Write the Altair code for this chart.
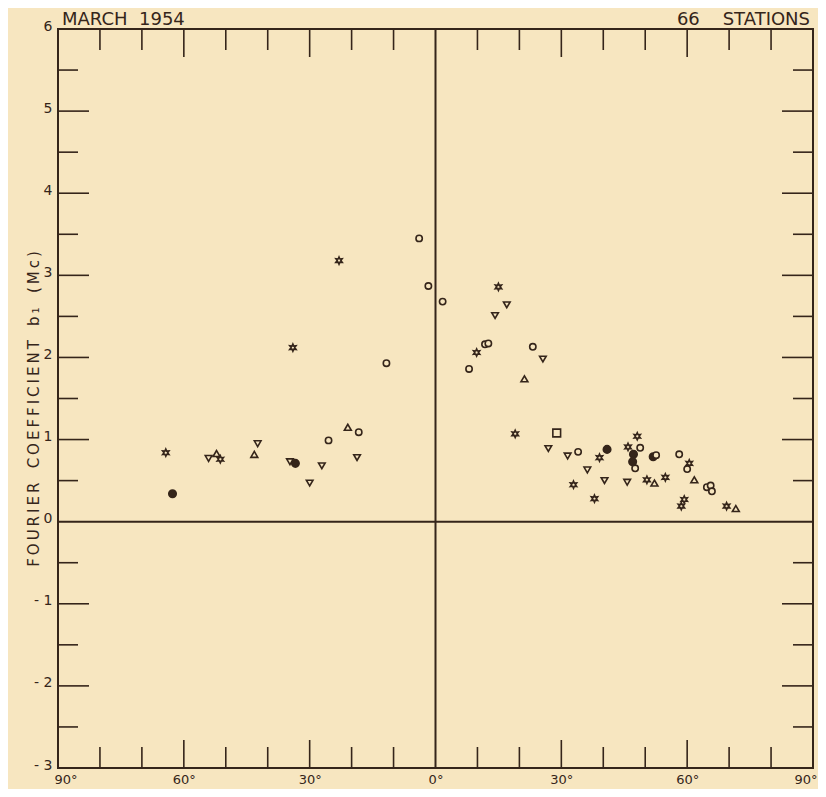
import altair as alt
import pandas as pd

# ---- data ----
lat = [-3.9, -23.0, -1.7, -34.0, -11.7, -20.9, -18.3, -25.5, -42.4, -64.3,
       -54.1, -52.2, -51.3, -43.2, -34.7, -33.4, -27.1, -18.7, -30.0, -62.7,
       15.0, 1.7, 17.0, 14.2, 11.8, 12.6, 9.8, 23.2, 25.6, 8.0,
       21.2, 19.0, 28.9, 26.9, 31.5, 34.0, 39.1, 40.9, 36.2, 32.9,
       37.9, 40.3, 45.7, 45.9, 48.1, 48.8, 47.2, 47.0, 47.6, 50.4,
       52.2, 54.8, 51.9, 52.6, 58.1, 60.5, 60.0, 61.7, 59.3, 58.6,
       64.7, 65.6, 65.9, 69.4, 71.6]
coef = [3.45, 3.18, 2.87, 2.12, 1.93, 1.15, 1.09, 0.99, 0.95, 0.84,
        0.77, 0.83, 0.76, 0.82, 0.73, 0.71, 0.68, 0.78, 0.47, 0.34,
        2.86, 2.68, 2.64, 2.51, 2.16, 2.17, 2.06, 2.13, 1.98, 1.86,
        1.74, 1.07, 1.08, 0.89, 0.80, 0.85, 0.78, 0.88, 0.63, 0.45,
        0.28, 0.50, 0.48, 0.91, 1.04, 0.90, 0.82, 0.73, 0.65, 0.51,
        0.47, 0.54, 0.79, 0.81, 0.82, 0.71, 0.64, 0.51, 0.27, 0.19,
        0.42, 0.44, 0.37, 0.19, 0.16]
sym = ["circle", "star", "circle", "star", "circle", "tri_up", "circle", "circle", "tri_down", "star",
       "tri_down", "tri_up", "star", "tri_up", "tri_down", "dot", "tri_down", "tri_down", "tri_down", "dot",
       "star", "circle", "tri_down", "tri_down", "circle", "circle", "star", "circle", "tri_down", "circle",
       "tri_up", "star", "square", "tri_down", "tri_down", "circle", "star", "dot", "tri_down", "star",
       "star", "tri_down", "tri_down", "star", "star", "circle", "dot", "dot", "circle", "star",
       "tri_up", "star", "dot", "circle", "circle", "star", "circle", "tri_up", "star", "star",
       "circle", "circle", "circle", "star", "tri_up"]

x_major = [-60, -30, 30, 60]
x_minor = [-80, -70, -50, -40, -20, -10, 10, 20, 40, 50, 70, 80]
y_major = [-2, -1, 1, 2, 3, 4, 5]
y_minor = [-2.5, -1.5, -0.5, 0.5, 1.5, 2.5, 3.5, 4.5, 5.5]
x_labels = [-90, -60, -30, 0, 30, 60, 90]
y_labels = [-3, -2, -1, 0, 1, 2, 3, 4, 5, 6]

Y_TITLE_WORDS = ["FOURIER", "COEFFICIENT", "b\u2081", "(Mc)"]
TEXT_LEFT_WORDS = ["MARCH", "1954"]
TEXT_RIGHT_WORDS = ["66", "STATIONS"]

W, H = 755, 739
BG = "#f7e6c0"
INK = "#35251a"
FONT = "DejaVu Sans"
NB = "\u00a0"
STAR = "M0,-1L0.25,-0.43L0.87,-0.5L0.5,0L0.87,0.5L0.25,0.43L0,1L-0.25,0.43L-0.87,0.5L-0.5,0L-0.87,-0.5L-0.25,-0.43Z"

# letter-spaced title (thin spaces between letters, as in the lettered original)
y_title = (NB * 3).join("\u2009".join(w) for w in Y_TITLE_WORDS)
text_left = (NB * 2).join(TEXT_LEFT_WORDS)
text_right = (NB * 4).join(TEXT_RIGHT_WORDS)

xs = alt.Scale(domain=[-90, 90], nice=False, zero=False)
ys = alt.Scale(domain=[-3, 6], nice=False, zero=False)

pts = pd.DataFrame({"lat": lat, "coef": coef, "sym": sym})

points = alt.Chart(pts).mark_point(filled=True, stroke=INK, strokeWidth=1.6, opacity=1).encode(
    x=alt.X("lat:Q", scale=xs, axis=alt.Axis(
        values=x_labels, labelExpr="abs(datum.value) + '°'", ticks=False, tickSize=0,
        domain=False, grid=False, title=None, labelFontSize=13, labelPadding=5,
        labelFlush=True, labelFlushOffset=4, labelColor=INK, labelFont=FONT)),
    y=alt.Y("coef:Q", scale=ys, axis=alt.Axis(
        values=y_labels, labelExpr="datum.value < 0 ? '- ' + abs(datum.value) : '' + datum.value",
        ticks=False, tickSize=0, domain=False, grid=False, labelFontSize=14, labelPadding=6,
        labelFlush=False, labelOffset=-3, labelColor=INK, labelFont=FONT,
        title=y_title, titleX=-25, titleY=H / 2 + 10, titleAngle=270,
        titleAlign="center", titleBaseline="middle", titleFontSize=15, titleFontWeight="normal",
        titleColor=INK, titleFont=FONT)),
    shape=alt.Shape("sym:N", legend=None, scale=alt.Scale(
        domain=["circle", "tri_down", "tri_up", "star", "dot", "square"],
        range=["circle", "triangle-down", "triangle-up", STAR, "circle", "square"])),
    fill=alt.Fill("sym:N", legend=None, scale=alt.Scale(
        domain=["circle", "tri_down", "tri_up", "star", "dot", "square"],
        range=[BG, BG, BG, BG, INK, BG])),
    size=alt.Size("sym:N", legend=None, scale=alt.Scale(
        domain=["circle", "tri_down", "tri_up", "star", "dot", "square"],
        range=[40, 60, 60, 60, 35, 36])),
)


def xticks(vals, length):
    df = pd.DataFrame({"x": vals})
    base = alt.Chart(df).mark_rule(color=INK, strokeWidth=1.6)
    bottom = base.encode(x=alt.X("x:Q", scale=xs), y=alt.value(H), y2=alt.value(H - length))
    top = base.encode(x=alt.X("x:Q", scale=xs), y=alt.value(0), y2=alt.value(length))
    return [bottom, top]


def yticks(vals, length):
    df = pd.DataFrame({"y": vals})
    base = alt.Chart(df).mark_rule(color=INK, strokeWidth=1.6)
    left = base.encode(y=alt.Y("y:Q", scale=ys), x=alt.value(0), x2=alt.value(length))
    right = base.encode(y=alt.Y("y:Q", scale=ys), x=alt.value(W), x2=alt.value(W - length))
    return [left, right]


zero_v = alt.Chart(pd.DataFrame({"x": [0]})).mark_rule(color=INK, strokeWidth=2).encode(
    x=alt.X("x:Q", scale=xs))
zero_h = alt.Chart(pd.DataFrame({"y": [0]})).mark_rule(color=INK, strokeWidth=2).encode(
    y=alt.Y("y:Q", scale=ys))

title_left = alt.Chart(pd.DataFrame({"t": [text_left]})).mark_text(
    align="left", baseline="middle", fontSize=18, color=INK, font=FONT).encode(
    x=alt.value(4), y=alt.value(-9), text="t:N")
title_right = alt.Chart(pd.DataFrame({"t": [text_right]})).mark_text(
    align="right", baseline="middle", fontSize=18, color=INK, font=FONT).encode(
    x=alt.value(W - 3), y=alt.value(-9), text="t:N")

layers = [points, zero_v, zero_h] + xticks(x_major, 28) + xticks(x_minor, 21) + \
    yticks(y_major, 31) + yticks(y_minor, 20) + [title_left, title_right]

chart = alt.layer(*layers).properties(
    width=W, height=H,
    padding={"left": 50, "top": 21, "right": 5, "bottom": 21},
    autosize=alt.AutoSizeParams(type="none"),
    background=BG,
).configure_view(stroke=INK, strokeWidth=2)

chart.save("out.html", embed_options={"renderer": "svg", "actions": False})
